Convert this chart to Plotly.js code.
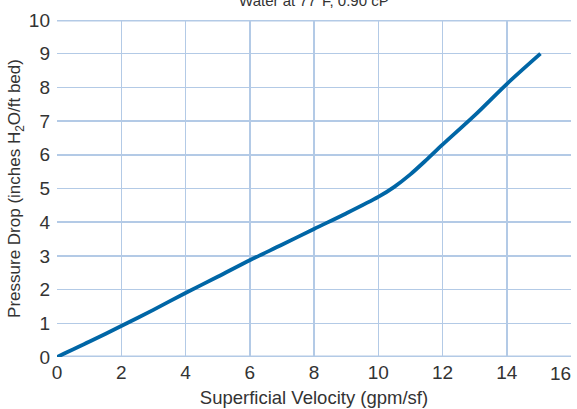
<!DOCTYPE html>
<html>
<head>
<meta charset="utf-8">
<script src="https://cdn.plot.ly/plotly-3.0.1.min.js"></script>
<style>html,body{margin:0;padding:0;background:#fff;}#chart{width:577px;height:409px;}</style>
</head>
<body>
<div id="chart"></div>
<script>
const velocity = [0, 1, 2, 3, 4, 5, 6, 7, 8, 9, 10, 10.5, 11, 11.5, 12, 13, 14, 15.05];
const pressureDrop = [0, 0.45, 0.92, 1.4, 1.9, 2.38, 2.87, 3.33, 3.8, 4.26, 4.75, 5.05, 5.42, 5.85, 6.3, 7.17, 8.1, 9.0];
const xTicks = [0, 2, 4, 6, 8, 10, 12, 14, 16];
const yTicks = [0, 1, 2, 3, 4, 5, 6, 7, 8, 9, 10];
const chartTitle = "Water at 77°F, 0.90 cP";
const xTitle = "Superficial Velocity (gpm/sf)";
const yTitle = "Pressure Drop (inches H<sub>2</sub>O/ft bed)";

const font = "'Liberation Sans', Arial, sans-serif";
const grid = "#b3cae6";
const textColor = "#333";

// ticks inside the range get normal labels; the last one (at the right edge) is placed as an annotation
const innerX = xTicks.slice(0, -1);
const lastX = xTicks[xTicks.length - 1];

Plotly.newPlot("chart", [{
  x: velocity, y: pressureDrop, type: "scatter", mode: "lines",
  line: {color: "#0066a6", width: 3.8, shape: "spline", smoothing: 0.8},
  cliponaxis: false, hoverinfo: "skip"
}], {
  width: 577, height: 409,
  margin: {l: 57, r: 6, t: 20, b: 52},
  paper_bgcolor: "#fff", plot_bgcolor: "#fff",
  showlegend: false,
  font: {family: font, color: textColor, size: 17},
  title: {text: chartTitle, x: 0.544, xanchor: "center", y: 0.998, yanchor: "middle", yref: "container",
          font: {family: font, size: 15, color: textColor}},
  xaxis: {range: [0, 16], tickvals: innerX, ticktext: innerX.map(String), showgrid: true, gridcolor: grid, gridwidth: 1.5,
          zeroline: false, showline: false, ticks: "", ticklabelstandoff: 2,
          tickfont: {size: 19, color: textColor},
          title: {text: xTitle, font: {size: 18.5, color: textColor}, standoff: 9}},
  yaxis: {range: [0, 10], tickvals: yTicks, ticktext: yTicks.map(String), showgrid: true, gridcolor: grid, gridwidth: 1.5,
          zeroline: false, showline: false, ticks: "", ticklabelstandoff: 6,
          tickfont: {size: 19, color: textColor},
          title: {text: yTitle, font: {size: 17, color: textColor}, standoff: 3}},
  annotations: [
    {text: String(lastX), x: lastX, xref: "x", xanchor: "right", xshift: 2, y: 0, yref: "paper", yanchor: "middle", yshift: -16,
     showarrow: false, font: {size: 19, color: textColor, family: font}}
  ],
  shapes: [
    {type: "line", xref: "paper", yref: "y", x0: 0, x1: 1, y0: 0, y1: 0, line: {color: grid, width: 3}, layer: "below"},
    {type: "line", xref: "paper", yref: "y", x0: 0, x1: 1, y0: 10, y1: 10, line: {color: grid, width: 3}, layer: "below"}
  ]
}, {displayModeBar: false, staticPlot: true});
</script>
</body>
</html>
